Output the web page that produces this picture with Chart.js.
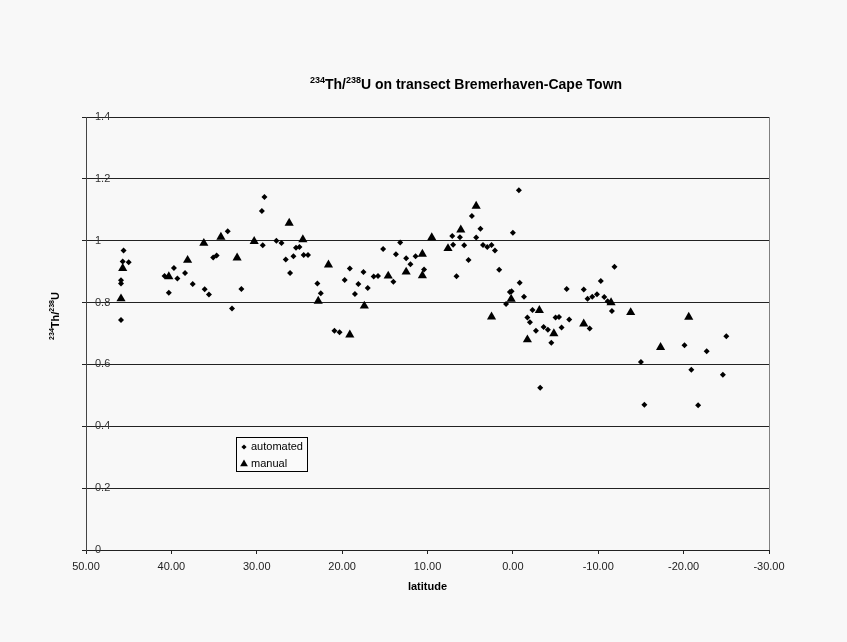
<!DOCTYPE html>
<html>
<head>
<meta charset="utf-8">
<script src="https://cdn.jsdelivr.net/npm/chart.js@4.4.0/dist/chart.umd.min.js"></script>
<style>
  html, body { margin: 0; padding: 0; background: #f8f8f8; }
  #wrap { width: 847px; height: 642px; }
</style>
</head>
<body>
<div id="wrap"><canvas id="chart" width="847" height="642"></canvas></div>
<script>
// --- DATA ---
const autoLat = [45.6, 45.7, 45.0, 45.9, 45.9, 45.9, 40.8, 40.3, 39.7, 39.3, 38.4, 37.5, 36.1, 35.6, 35.1, 34.7,
  33.4, 32.9, 31.8, 29.4, 29.1, 29.3, 27.7, 27.1, 26.6, 26.1, 25.7, 25.4, 25.0, 24.5, 24.0, 22.9, 22.5,
  20.9, 20.3, 19.7, 19.1, 18.5, 18.1, 17.5, 17.0, 16.3, 15.8, 15.2, 14.0, 13.7, 13.2, 12.5, 12.0, 11.4,
  10.4, 7.1, 7.0, 6.6, 6.2, 5.7, 5.2, 4.8, 4.3, 3.8, 3.5, 3.0, 2.5, 2.1, 1.6, 0.8, 0.35, 0.15, 0.0,
  -0.7, -0.8, -1.3, -1.7, -2.0, -2.3, -2.7, -3.6, -4.1, -4.5, -3.2, -5.0, -5.4, -5.7, -6.3, -6.6, -8.3,
  -8.75, -9.0, -9.3, -9.85, -10.3, -10.7, -11.1, -11.6, -11.9, -15.0, -15.4, -20.1, -20.9, -21.7, -22.7,
  -24.6, -25.0];
const autoVal = [0.968, 0.933, 0.930, 0.872, 0.862, 0.744, 0.886, 0.832, 0.912, 0.878, 0.896, 0.860, 0.843, 0.826, 0.946, 0.952,
  1.031, 0.781, 0.844, 1.096, 1.141, 0.985, 1.000, 0.993, 0.939, 0.896, 0.950, 0.977, 0.980, 0.954, 0.954, 0.862, 0.830,
  0.709, 0.704, 0.873, 0.910, 0.828, 0.860, 0.899, 0.847, 0.884, 0.886, 0.973, 0.867, 0.956, 0.994, 0.943, 0.924, 0.950,
  0.907, 1.015, 0.987, 0.885, 1.011, 0.985, 0.938, 1.080, 1.010, 1.039, 0.986, 0.980, 0.986, 0.968, 0.906, 0.795, 0.834, 0.837, 1.026,
  1.163, 0.864, 0.819, 0.752, 0.736, 0.776, 0.709, 0.721, 0.712, 0.670, 0.525, 0.752, 0.753, 0.719, 0.844, 0.745, 0.842,
  0.812, 0.716, 0.819, 0.827, 0.870, 0.818, 0.804, 0.773, 0.916, 0.608, 0.470, 0.662, 0.583, 0.468, 0.643,
  0.567, 0.691];

const manualLat = [45.7, 45.9, 40.3, 38.1, 36.2, 34.2, 32.3, 30.3, 26.2, 24.6, 22.8, 21.6, 19.1, 17.4, 14.6, 12.5,
  10.6, 10.6, 9.5, 7.6, 6.1, 4.3, 2.5, 0.2, -1.7, -3.1, -4.8, -8.3, -11.5, -13.8, -17.3, -20.6];
const manualVal = [0.911, 0.8125, 0.884, 0.937, 0.992, 1.012, 0.945, 0.998, 1.057, 1.004, 0.805, 0.922, 0.696, 0.789, 0.886, 0.899,
  0.957, 0.887, 1.010, 0.975, 1.035, 1.112, 0.754, 0.811, 0.680, 0.775, 0.700, 0.731, 0.800, 0.768, 0.655, 0.753];

const xTickValues = [50, 40, 30, 20, 10, 0, -10, -20, -30];
const xTickLabels = ['50.00', '40.00', '30.00', '20.00', '10.00', '0.00', '-10.00', '-20.00', '-30.00'];
const yTickValues = [0, 0.2, 0.4, 0.6, 0.8, 1, 1.2, 1.4];
const yTickLabels = ['0', '0.2', '0.4', '0.6', '0.8', '1', '1.2', '1.4'];

const titleParts = [['234', true], ['Th/', false], ['238', true], ['U on transect Bremerhaven-Cape Town', false]];
const yTitleParts = [['234', true], ['Th/', false], ['238', true], ['U', false]];
const xTitle = 'latitude';

const FONT = "'Liberation Sans', Arial, sans-serif";

// --- HELPER: text with superscripts ---
function drawSup(c, parts, x, y, size, weight) {
  const supSize = Math.round(size * 0.62);
  let total = 0;
  parts.forEach(([t, sup]) => {
    c.font = weight + ' ' + (sup ? supSize : size) + 'px ' + FONT;
    total += c.measureText(t).width;
  });
  let cx = x - total / 2;
  c.textAlign = 'left';
  c.textBaseline = 'alphabetic';
  parts.forEach(([t, sup]) => {
    c.font = weight + ' ' + (sup ? supSize : size) + 'px ' + FONT;
    c.fillText(t, cx, sup ? y - size * 0.42 : y);
    cx += c.measureText(t).width;
  });
}

// --- EXTRA DRAWING: background, titles, legend, right border ---
const decor = {
  id: 'decor',
  beforeDraw(chart) {
    const c = chart.ctx;
    c.save();
    c.fillStyle = '#f8f8f8';
    c.fillRect(0, 0, chart.width, chart.height);
    c.restore();
  },
  afterDraw(chart) {
    const c = chart.ctx, a = chart.chartArea;
    c.save();
    c.strokeStyle = '#808080';
    c.lineWidth = 1;
    c.beginPath();
    c.moveTo(Math.round(a.right) + 0.5, a.top);
    c.lineTo(Math.round(a.right) + 0.5, a.bottom);
    c.stroke();

    c.fillStyle = '#000';
    drawSup(c, titleParts, 466, 89, 14, 'bold');

    c.save();
    c.translate(59, 316);
    c.rotate(-Math.PI / 2);
    drawSup(c, yTitleParts, 0, 0, 11, 'bold');
    c.restore();

    c.font = 'bold 11px ' + FONT;
    c.textAlign = 'center';
    c.textBaseline = 'middle';
    c.fillText(xTitle, (a.left + a.right) / 2, 587);

    // legend
    const lx = 236, ly = 437, lw = 71, lh = 34;
    c.fillStyle = '#fafafa';
    c.fillRect(lx, ly, lw, lh);
    c.strokeStyle = '#000';
    c.strokeRect(lx + 0.5, ly + 0.5, lw, lh);
    chart.data.datasets.forEach((ds, i) => {
      const yy = ly + 10 + i * 17;
      c.fillStyle = '#000';
      Chart.helpers.drawPoint(c, { pointStyle: ds.pointStyle, radius: i ? 4.5 : 2.6, borderWidth: 0, rotation: 0 }, lx + 8, yy);
      c.font = '11px ' + FONT;
      c.textAlign = 'left';
      c.textBaseline = 'middle';
      c.fillText(ds.label, lx + 15, yy);
    });
    c.restore();
  }
};

// --- CHART ---
const ctx = document.getElementById('chart').getContext('2d');
new Chart(ctx, {
  type: 'scatter',
  data: {
    datasets: [
      {
        label: 'automated',
        data: autoLat.map((x, i) => ({ x: x, y: autoVal[i] })),
        pointStyle: 'rectRot',
        pointRadius: 3,
        pointHoverRadius: 3,
        backgroundColor: '#000',
        borderColor: '#000',
        borderWidth: 0
      },
      {
        label: 'manual',
        data: manualLat.map((x, i) => ({ x: x, y: manualVal[i] })),
        pointStyle: 'triangle',
        pointRadius: 5.3,
        pointHoverRadius: 5.3,
        backgroundColor: '#000',
        borderColor: '#000',
        borderWidth: 0
      }
    ]
  },
  options: {
    responsive: false,
    animation: false,
    layout: { padding: { left: 86, right: 78, top: 117, bottom: 62 } },
    plugins: { legend: { display: false }, title: { display: false }, tooltip: { enabled: false } },
    scales: {
      x: {
        type: 'linear',
        min: -30,
        max: 50,
        reverse: true,
        afterFit: s => { s.height = 30; },
        afterBuildTicks: s => { s.ticks = xTickValues.map(v => ({ value: v })); },
        ticks: {
          callback: v => xTickLabels[xTickValues.indexOf(v)],
          font: { family: FONT, size: 11 },
          color: '#222',
          padding: 6,
          maxRotation: 0,
          autoSkip: false
        },
        grid: { drawOnChartArea: false, drawTicks: true, tickLength: 4, color: '#222' },
        border: { color: '#222', width: 1 }
      },
      y: {
        min: 0,
        max: 1.4,
        afterFit: s => { s.width = 0; },
        afterBuildTicks: s => { s.ticks = yTickValues.map(v => ({ value: v })); },
        ticks: {
          callback: v => yTickLabels[yTickValues.indexOf(v)],
          mirror: true,
          padding: 9,
          font: { family: FONT, size: 11 },
          color: '#333'
        },
        grid: { color: '#222', tickLength: 4 },
        border: { color: '#444', width: 1 }
      }
    }
  },
  plugins: [decor]
});
</script>
</body>
</html>
